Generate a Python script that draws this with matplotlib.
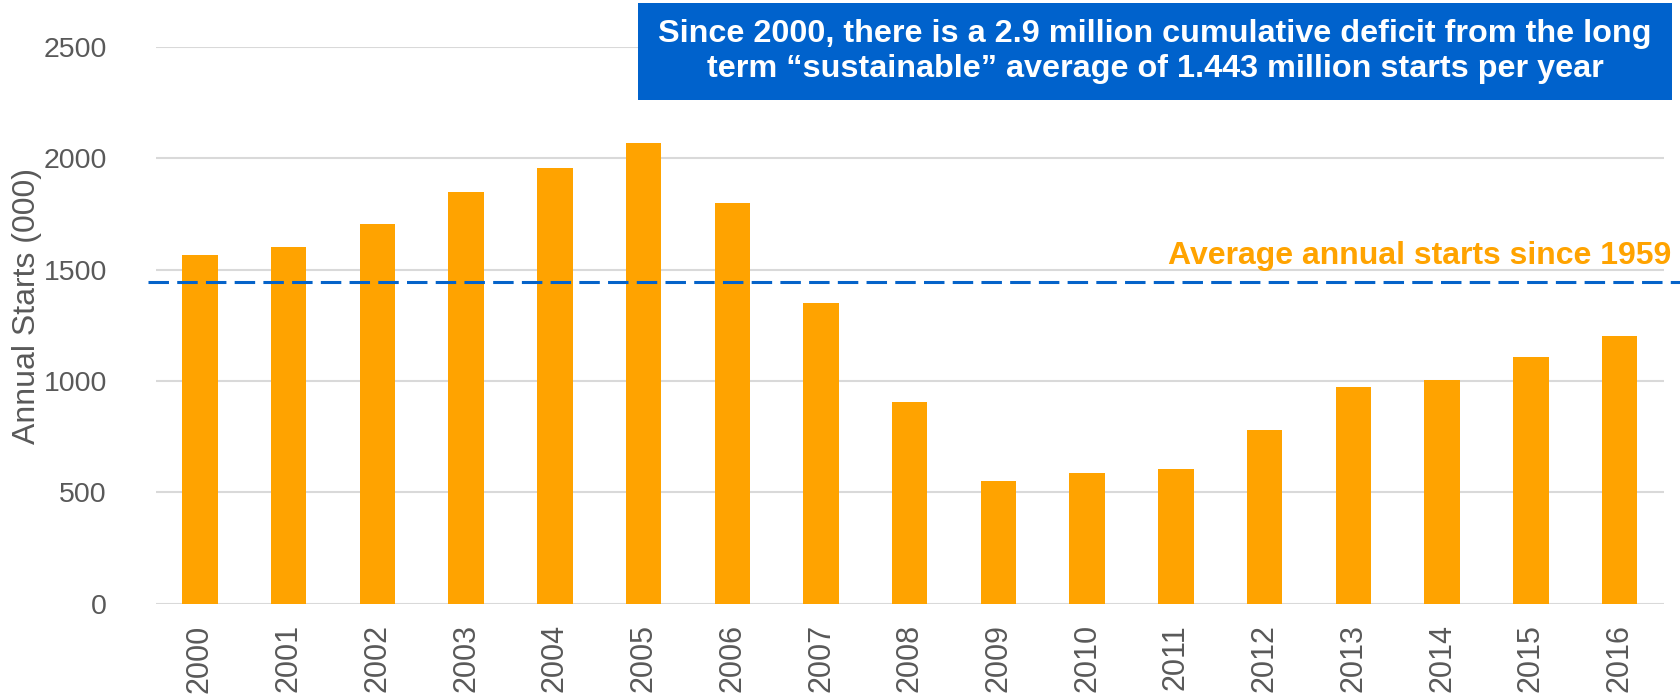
import matplotlib
matplotlib.use("Agg")
import matplotlib.pyplot as plt
import matplotlib.font_manager as fm
from matplotlib.patches import Rectangle
from matplotlib.transforms import blended_transform_factory
import numpy as np

# 数据：年度开工量（千套）
years = ["2000", "2001", "2002", "2003", "2004", "2005", "2006", "2007", "2008",
         "2009", "2010", "2011", "2012", "2013", "2014", "2015", "2016"]
starts = [1566, 1602, 1704, 1848, 1956, 2068, 1800, 1352, 906,
          552, 585, 606, 780, 973, 1003, 1108, 1202]
avg_since_1959 = 1443
y_ticks = [0, 500, 1000, 1500, 2000, 2500]

box_lines = ["Since 2000, there is a 2.9 million cumulative deficit from the long",
             "term \u201csustainable\u201d average of 1.443 million starts per year"]
avg_label = "Average annual starts since 1959"
y_label = "Annual Starts (000)"

ORANGE = "#FFA300"
BLUE = "#0563C9"
GRAY = "#595959"
GRID = "#D9D9D9"

plt.rcParams['font.family'] = ['Liberation Sans', 'DejaVu Sans']

W, H = 1681, 697
fig = plt.figure(figsize=(W / 100, H / 100), dpi=100)
ax = fig.add_axes([155.5 / W, 1 - 603.5 / H, 1508.5 / W, 556.3 / H])

x = np.arange(len(years))
ax.bar(x, starts, width=0.4, color=ORANGE, zorder=3)
ax.set_xlim(-0.5, len(years) - 0.5)
ax.set_ylim(0, 2500)

ax.set_yticks(y_ticks)
ax.set_xticks(x)
ax.set_xticklabels(years, rotation=90, fontsize=22, color=GRAY)
ax.tick_params(axis='y', length=0, pad=35, labelsize=20.5, labelcolor=GRAY)
ax.tick_params(axis='x', length=0, pad=15)
ax.grid(axis='y', color=GRID, linewidth=1.5, zorder=0)
for s in ax.spines.values():
    s.set_visible(False)

ax.set_ylabel(y_label, fontsize=23, color=GRAY)
ax.yaxis.set_label_coords(-0.085, 0.535)
ax.yaxis.label.set_va('center')

# 平均线（超出坐标轴两端）
ax.axhline(avg_since_1959, xmin=-0.005, xmax=1.012, color=BLUE, linewidth=2.2,
           linestyle=(0, (6.7, 2.7)), clip_on=False, zorder=4)
trans = blended_transform_factory(ax.transAxes, ax.transData)
ax.text(1.0046, 1526, avg_label, transform=trans, ha='right', va='baseline',
        fontsize=23, fontweight='bold', color=ORANGE)

# 顶部蓝色说明框
fig.patches.append(Rectangle((638 / W, 1 - 100 / H), (1672 - 638) / W, 97 / H,
                             transform=fig.transFigure, facecolor="#0062CC",
                             edgecolor='none', zorder=5))
try:
    fm.findfont(fm.FontProperties(family='Liberation Sans Narrow', weight='bold'),
                fallback_to_default=False)
    box_family = ['Liberation Sans Narrow', 'DejaVu Sans']
except ValueError:
    box_family = ['Liberation Sans', 'DejaVu Sans']

t = fig.text(1155 / W, 1 - 51.5 / H, "\n".join(box_lines), ha='center', va='center',
             fontsize=23, fontweight='bold', color='white', family=box_family,
             linespacing=1.25, zorder=6)
# 按目标宽度缩放字号
fig.canvas.draw()
r = fig.canvas.get_renderer()
w = t.get_window_extent(r).width
t.set_fontsize(23 * 995 / w)

fig.savefig("out.png", dpi=100)
